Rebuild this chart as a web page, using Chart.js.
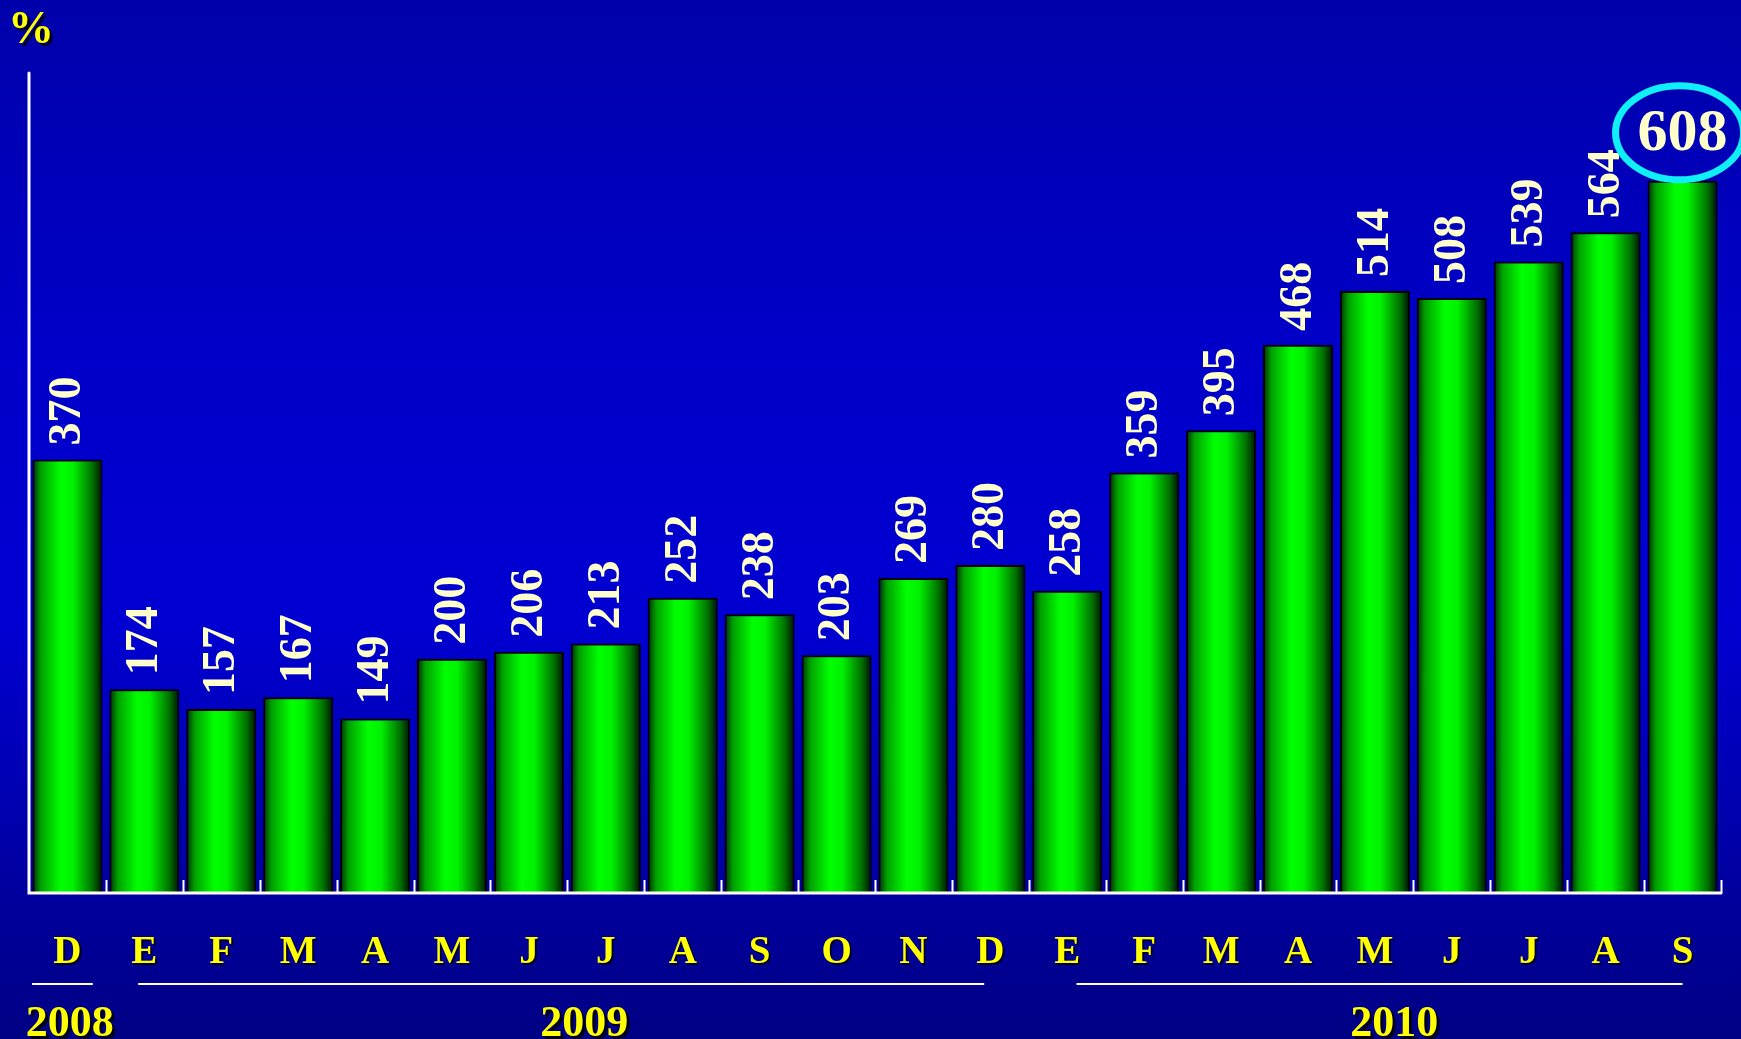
<!DOCTYPE html>
<html lang="es">

<head>
    <meta charset="UTF-8">
    <title>Evolución %</title>
    <script src="https://cdn.jsdelivr.net/npm/chart.js"></script>
    <style>
        html, body {
            margin: 0;
            padding: 0;
            background-color: #0000b0;
            overflow: hidden;
        }

        canvas {
            display: block;
        }
    </style>
</head>

<body>
    <canvas id="pctChart" width="1741" height="1039"></canvas>

    <script>
        // data
        const months = ["D", "E", "F", "M", "A", "M", "J", "J", "A", "S", "O", "N", "D", "E", "F", "M", "A", "M", "J", "J", "A", "S"];
        const values = [370, 174, 157, 167, 149, 200, 206, 213, 252, 238, 203, 269, 280, 258, 359, 395, 468, 514, 508, 539, 564, 608];
        const years = ["2008", "2009", "2010"];
        const yearFirst = [0, 1, 13];
        const yearLast = [0, 12, 21];
        const highlightIndex = 21;

        const YELLOW = "#ffff00";
        const CREAM = "#ffffcc";

        function barGradient(context) {
            const chart = context.chart;
            const x = chart.scales.x;
            if (!chart.chartArea || !x) return "#00ff00";
            const step = x.getPixelForValue(1) - x.getPixelForValue(0);
            const cx = x.getPixelForValue(context.dataIndex);
            const half = step * 0.91 / 2;
            const g = chart.ctx.createLinearGradient(cx - half, 0, cx + half, 0);
            g.addColorStop(0, "#002a00");
            g.addColorStop(0.12, "#00a000");
            g.addColorStop(0.4, "#00ff00");
            g.addColorStop(0.58, "#00f200");
            g.addColorStop(0.86, "#007000");
            g.addColorStop(1, "#000f00");
            return g;
        }

        const backdrop = {
            id: "backdrop",
            beforeDraw(chart) {
                const { ctx, width, height } = chart;
                const g = ctx.createLinearGradient(0, 0, 0, height);
                g.addColorStop(0, "#0000aa");
                g.addColorStop(0.35, "#0000ca");
                g.addColorStop(0.6, "#0000d2");
                g.addColorStop(0.8, "#0000aa");
                g.addColorStop(1, "#000084");
                ctx.save();
                ctx.fillStyle = g;
                ctx.fillRect(0, 0, width, height);
                ctx.restore();
            }
        };

        const decorations = {
            id: "decorations",
            afterDraw(chart) {
                const { ctx, chartArea } = chart;
                const x = chart.scales.x;
                const step = x.getPixelForValue(1) - x.getPixelForValue(0);
                const bars = chart.getDatasetMeta(0).data;

                ctx.save();

                // axes
                ctx.strokeStyle = "#ffffff";
                ctx.lineWidth = 3;
                ctx.lineCap = "round";
                ctx.beginPath();
                ctx.moveTo(chartArea.left, chartArea.top);
                ctx.lineTo(chartArea.left, chartArea.bottom);
                ctx.lineTo(chartArea.right, chartArea.bottom);
                ctx.stroke();

                // tick marks between categories, pointing up
                ctx.lineWidth = 2;
                ctx.lineCap = "butt";
                for (let i = 1; i <= months.length; i++) {
                    const tx = Math.round(x.getPixelForValue(i) - step / 2) + 0.5;
                    ctx.beginPath();
                    ctx.moveTo(tx, chartArea.bottom);
                    ctx.lineTo(tx, chartArea.bottom - 13);
                    ctx.stroke();
                }

                // month letters
                ctx.shadowColor = "rgba(0,0,0,0.7)";
                ctx.shadowOffsetX = 2;
                ctx.shadowOffsetY = 2;
                ctx.fillStyle = YELLOW;
                ctx.font = "bold 39px 'Liberation Serif', serif";
                ctx.textAlign = "center";
                ctx.textBaseline = "alphabetic";
                months.forEach((m, i) => {
                    ctx.fillText(m, x.getPixelForValue(i), 963);
                });

                // year separators and labels
                const lineFrom = [-0.46, -0.08, 0.12];
                const lineTo = [0.33, -0.08, 0.0];
                const labelShift = [0.03, 0.22, 0.25];
                years.forEach((y, k) => {
                    const a = x.getPixelForValue(yearFirst[k]) + lineFrom[k] * step;
                    const b = x.getPixelForValue(yearLast[k]) + lineTo[k] * step;
                    ctx.shadowColor = "transparent";
                    ctx.strokeStyle = "#ffffff";
                    ctx.lineWidth = 2;
                    ctx.beginPath();
                    ctx.moveTo(a, 984);
                    ctx.lineTo(b, 984);
                    ctx.stroke();

                    const mid = (x.getPixelForValue(yearFirst[k]) + x.getPixelForValue(yearLast[k])) / 2 + labelShift[k] * step;
                    ctx.shadowColor = "rgba(0,0,0,0.8)";
                    ctx.shadowOffsetX = 3;
                    ctx.shadowOffsetY = 3;
                    ctx.fillStyle = YELLOW;
                    ctx.font = "bold 44px 'Liberation Serif', serif";
                    ctx.fillText(y, mid, 1036);
                });

                // percent sign
                ctx.font = "bold 46px 'Liberation Serif', serif";
                ctx.textAlign = "left";
                ctx.fillText("%", 8, 43);

                // value labels
                ctx.shadowColor = "transparent";
                ctx.fillStyle = CREAM;
                bars.forEach((bar, i) => {
                    if (i === highlightIndex) return;
                    ctx.save();
                    ctx.translate(bar.x + 1, bar.y - 14);
                    ctx.rotate(-Math.PI / 2);
                    ctx.font = "bold 46px 'Liberation Serif', serif";
                    ctx.textAlign = "left";
                    ctx.textBaseline = "middle";
                    ctx.fillText(String(values[i]), 0, 0);
                    ctx.restore();
                });

                // highlighted last value
                const hb = bars[highlightIndex];
                const cy = hb.y - 48;
                ctx.strokeStyle = "#10eef8";
                ctx.lineWidth = 7;
                ctx.beginPath();
                ctx.ellipse(hb.x - 3, cy, 64, 47, 0, 0, Math.PI * 2);
                ctx.stroke();
                ctx.fillStyle = CREAM;
                ctx.font = "bold 60px 'Liberation Serif', serif";
                ctx.textAlign = "center";
                ctx.textBaseline = "middle";
                ctx.fillText(String(values[highlightIndex]), hb.x, cy + 2);

                ctx.restore();
            }
        };

        const chart = new Chart(document.getElementById("pctChart").getContext("2d"), {
            type: "bar",
            data: {
                labels: months,
                datasets: [{
                    data: values,
                    backgroundColor: barGradient,
                    borderColor: "#000000",
                    borderWidth: 2,
                    borderSkipped: "bottom",
                    categoryPercentage: 1.0,
                    barPercentage: 0.91
                }]
            },
            options: {
                responsive: false,
                animation: false,
                layout: {
                    padding: { left: 29, right: 20, top: 73, bottom: 146 }
                },
                plugins: {
                    legend: { display: false },
                    tooltip: { enabled: false }
                },
                scales: {
                    x: { display: false },
                    y: { display: false, min: 0, max: 700 }
                }
            },
            plugins: [backdrop, decorations]
        });
    </script>
</body>

</html>
